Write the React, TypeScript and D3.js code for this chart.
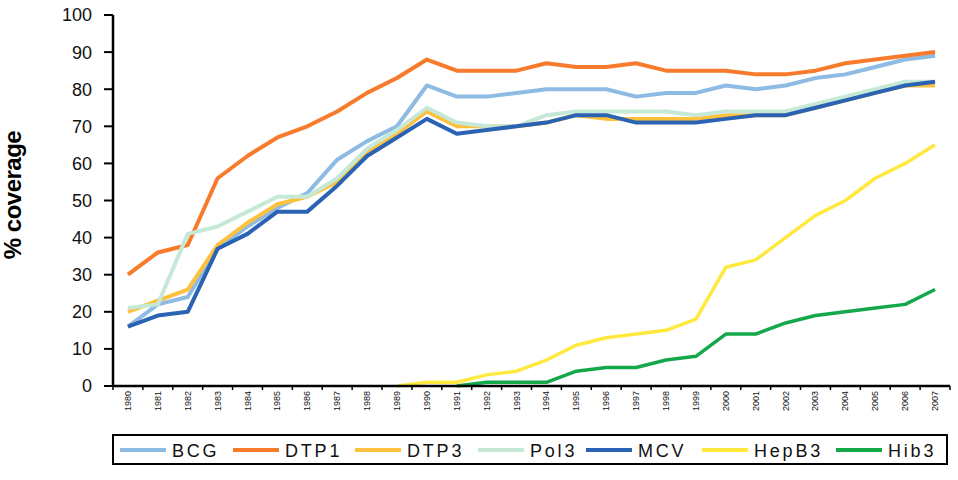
import React, { useEffect, useRef } from "react";
import * as d3 from "d3";

const years = d3.range(1980, 2008).map(String);

const bcg = [16, 22, 24, 37, 43, 48, 52, 61, 66, 70, 81, 78, 78, 79, 80, 80, 80, 78, 79, 79, 81, 80, 81, 83, 84, 86, 88, 89];
const dtp1 = [30, 36, 38, 56, 62, 67, 70, 74, 79, 83, 88, 85, 85, 85, 87, 86, 86, 87, 85, 85, 85, 84, 84, 85, 87, 88, 89, 90];
const dtp3 = [20, 23, 26, 38, 44, 49, 51, 55, 63, 68, 74, 70, 70, 70, 71, 73, 72, 72, 72, 72, 73, 73, 73, 75, 77, 79, 81, 81];
const pol3 = [21, 22, 41, 43, 47, 51, 51, 56, 64, 69, 75, 71, 70, 70, 73, 74, 74, 74, 74, 73, 74, 74, 74, 76, 78, 80, 82, 82];
const mcv = [16, 19, 20, 37, 41, 47, 47, 54, 62, 67, 72, 68, 69, 70, 71, 73, 73, 71, 71, 71, 72, 73, 73, 75, 77, 79, 81, 82];
const hepb3 = [null, null, null, null, null, null, null, null, null, 0, 1, 1, 3, 4, 7, 11, 13, 14, 15, 18, 32, 34, 40, 46, 50, 56, 60, 65];
const hib3 = [null, null, null, null, null, null, null, null, null, null, null, 0, 1, 1, 1, 4, 5, 5, 7, 8, 14, 14, 17, 19, 20, 21, 22, 26];

const yTicks = d3.range(0, 101, 10);

const series = [
  { name: "BCG", values: bcg, color: "#8dbbe3", width: 4 },
  { name: "DTP1", values: dtp1, color: "#f77b2b", width: 4 },
  { name: "DTP3", values: dtp3, color: "#fdc13d", width: 4 },
  { name: "Pol3", values: pol3, color: "#c6e8d6", width: 4 },
  { name: "MCV", values: mcv, color: "#2b63b4", width: 4 },
  { name: "HepB3", values: hepb3, color: "#ffe93f", width: 3.5 },
  { name: "Hib3", values: hib3, color: "#15a84b", width: 3.5 },
];

// legend item start positions (layout only)
const legendX = [120, 233, 355, 478, 586, 702, 836];

const App = () => {
  const ref = useRef<SVGSVGElement | null>(null);

  useEffect(() => {
    const svg = d3.select(ref.current);
    svg.selectAll("*").remove();

    const left = 113;
    const right = 950;
    const top = 15;
    const bottom = 386;

    const x = d3.scaleBand().domain(years).range([left, right]).padding(0);
    const y = d3.scaleLinear().domain([0, 100]).range([bottom, top]);
    const cx = (yr: string) => (x(yr) as number) + x.bandwidth() / 2;

    const font = "Arial, 'Liberation Sans', sans-serif";

    // y axis
    svg
      .append("line")
      .attr("x1", left)
      .attr("x2", left)
      .attr("y1", top)
      .attr("y2", bottom)
      .attr("stroke", "#000")
      .attr("stroke-width", 2.5);

    const yt = svg.append("g").selectAll("g").data(yTicks).join("g");
    yt.append("line")
      .attr("x1", left - 9)
      .attr("x2", left)
      .attr("y1", (d) => y(d))
      .attr("y2", (d) => y(d))
      .attr("stroke", "#000")
      .attr("stroke-width", 2);
    yt.append("text")
      .attr("x", 92)
      .attr("y", (d) => y(d))
      .attr("dy", "0.36em")
      .attr("text-anchor", "end")
      .attr("font-family", font)
      .attr("font-size", 18)
      .attr("fill", "#111")
      .text((d) => d);

    // lines
    series.forEach((s) => {
      const line = d3
        .line<number | null>()
        .defined((d) => d !== null)
        .x((_, i) => cx(years[i]))
        .y((d) => y(d as number));
      svg
        .append("path")
        .datum(s.values)
        .attr("d", line)
        .attr("fill", "none")
        .attr("stroke", s.color)
        .attr("stroke-width", s.width)
        .attr("stroke-linejoin", "round");
    });

    // x axis
    svg
      .append("line")
      .attr("x1", left)
      .attr("x2", right)
      .attr("y1", bottom)
      .attr("y2", bottom)
      .attr("stroke", "#000")
      .attr("stroke-width", 2.5);

    const bounds = years.map((yr) => x(yr) as number).concat([right]);
    svg
      .append("g")
      .selectAll("line")
      .data(bounds)
      .join("line")
      .attr("x1", (d) => d)
      .attr("x2", (d) => d)
      .attr("y1", bottom)
      .attr("y2", bottom + 4)
      .attr("stroke", "#000")
      .attr("stroke-width", 1.5);

    svg
      .append("g")
      .selectAll("text")
      .data(years)
      .join("text")
      .attr("transform", (d) => `translate(${cx(d) + 3},${bottom + 5}) rotate(-90)`)
      .attr("text-anchor", "end")
      .attr("font-family", font)
      .attr("font-size", 9)
      .attr("fill", "#111")
      .text((d) => d);

    // y label
    svg
      .append("text")
      .attr("transform", `translate(21,195) rotate(-90)`)
      .attr("text-anchor", "middle")
      .attr("font-family", font)
      .attr("font-weight", "bold")
      .attr("font-size", 24)
      .attr("letter-spacing", -0.5)
      .attr("fill", "#000")
      .text("% coverage");

    // legend
    svg
      .append("rect")
      .attr("x", left)
      .attr("y", 435)
      .attr("width", 834)
      .attr("height", 29)
      .attr("fill", "#fff")
      .attr("stroke", "#000")
      .attr("stroke-width", 2);

    const lg = svg
      .append("g")
      .selectAll("g")
      .data(series)
      .join("g")
      .attr("transform", (_, i) => `translate(${legendX[i]},0)`);
    lg.append("line")
      .attr("x1", 0)
      .attr("x2", 46)
      .attr("y1", 450)
      .attr("y2", 450)
      .attr("stroke", (d) => d.color)
      .attr("stroke-width", 4);
    lg.append("text")
      .attr("x", 52)
      .attr("y", 456.5)
      .attr("font-family", font)
      .attr("font-size", 18)
      .attr("letter-spacing", 2.8)
      .attr("fill", "#111")
      .text((d) => d.name);
  }, []);

  return <svg ref={ref} width={958} height={480} style={{ position: "absolute", left: 0, top: 0 }} />;
};

export default App;
